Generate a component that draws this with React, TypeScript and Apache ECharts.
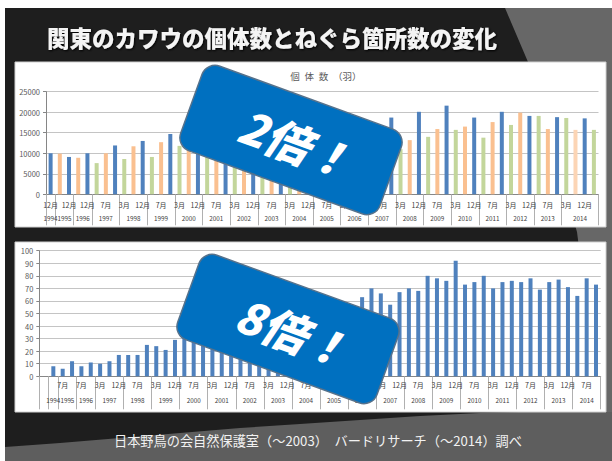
import React, { useEffect, useRef } from "react";
import * as echarts from "echarts";

// ---------- Data ----------
const topMonths = [
  "12月",
  "7月", "12月",
  "7月", "12月",
  "3月", "7月", "12月", // 1997
  "3月", "7月", "12月", // 1998
  "3月", "7月", "12月", // 1999
  "3月", "7月", "12月", // 2000
  "3月", "7月", "12月", // 2001
  "3月", "7月", "12月", // 2002
  "3月", "7月", "12月", // 2003
  "3月", "7月", "12月", // 2004
  "3月", "7月", "12月", // 2005
  "3月", "7月", "12月", // 2006
  "3月", "7月", "12月", // 2007
  "3月", "7月", "12月", // 2008
  "3月", "7月", "12月", // 2009
  "3月", "7月", "12月", // 2010
  "3月", "7月", "12月", // 2011
  "3月", "7月", "12月", // 2012
  "3月", "7月", "12月", // 2013
  "3月", "7月", "12月", "3月", // 2014
];
const topValues = [
  10000, 9900, 9100, 8900, 10000, 7600, 10000, 11900, 8600, 11700,
  13000, 9100, 12700, 14700, 11800, 13500, 15000, 12000, 14200, 15800,
  12800, 14900, 15700, 12900, 15300, 17200, 13600, 15600, 16800, 14300,
  16200, 18100, 13900, 15800, 17300, 14500, 15800, 18700, 11000, 13200,
  20100, 14000, 15900, 21600, 15700, 16500, 18700, 13800, 17600, 20100,
  16900, 19900, 19100, 19100, 15900, 18800, 18600, 15700, 18500, 15700,
];
const topPaleIndex = [57];
const topYearLabels = [
  "1994", "1995", "1996", "1997", "1998", "1999", "2000", "2001", "2002", "2003", "2004",
  "2005", "2006", "2007", "2008", "2009", "2010", "2011", "2012", "2013", "2014",
];
const topYearSizes = [1, 2, 2, 3, 3, 3, 3, 3, 3, 3, 3, 3, 3, 3, 3, 3, 3, 3, 3, 3, 4];

const bottomMonths = [
  "", "12月",
  "7月", "12月",
  "7月", "12月",
  "3月", "7月", "12月", // 1997
  "3月", "7月", "12月", // 1998
  "3月", "7月", "12月", // 1999
  "3月", "7月", "12月", // 2000
  "3月", "7月", "12月", // 2001
  "3月", "7月", "12月", // 2002
  "3月", "7月", "12月", // 2003
  "3月", "7月", "12月", // 2004
  "3月", "7月", "12月", // 2005
  "3月", "7月", "12月", // 2006
  "3月", "7月", "12月", // 2007
  "3月", "7月", "12月", // 2008
  "3月", "7月", "12月", // 2009
  "3月", "7月", "12月", // 2010
  "3月", "7月", "12月", // 2011
  "3月", "7月", "12月", // 2012
  "3月", "7月", "12月", // 2013
  "3月", "7月", "12月", // 2014
];
const bottomValues = [
  null, 8, 6, 12, 8, 11, 10, 12, 17, 17,
  17, 25, 24, 21, 29, 31, 33, 32, 36, 38,
  37, 41, 43, 42, 46, 48, 47, 50, 51, 50,
  53, 54, 50, 52, 63, 70, 66, 57, 67, 70,
  68, 80, 78, 76, 92, 73, 75, 80, 70, 75,
  76, 75, 78, 69, 75, 77, 71, 64, 78, 73,
];
const bottomYearLabels = [
  "", "1994", "1995", "1996", "1997", "1998", "1999", "2000", "2001", "2002", "2003",
  "2004", "2005", "2006", "2007", "2008", "2009", "2010", "2011", "2012", "2013", "2014",
];
const bottomYearSizes = [1, 1, 2, 2, 3, 3, 3, 3, 3, 3, 3, 3, 3, 3, 3, 3, 3, 3, 3, 3, 3, 3];

const topYMax = 25000;
const topYStep = 5000;
const bottomYMax = 100;
const bottomYStep = 10;

const mainTitle = "関東のカワウの個体数とねぐら箇所数の変化";
const topChartTitle = "個\u2002体\u2002数\u2002（羽）";
const footerText = "日本野鳥の会自然保護室（～2003）　バードリサーチ（～2014）調べ";
const topBadge = "2倍！";
const bottomBadge = "8倍！";

// ---------- Styles ----------
const FONT = '"Noto Sans CJK JP", "Noto Sans", sans-serif';
const monthColors: Record<string, string> = {
  "12月": "#4F81BD",
  "3月": "#C3D69B",
  "7月": "#FAC090",
};
const paleColor = "#FCD5B5";
const blue = "#4F81BD";

function yearAxis(labels: string[], sizes: number[]) {
  const total = sizes.reduce((s, v) => s + v, 0);
  const data: string[] = new Array(total * 2 + 1).fill("");
  const bounds = new Set<number>([0]);
  let start = 0;
  labels.forEach((lab, i) => {
    const end = start + sizes[i];
    data[start + end] = lab;
    bounds.add(end * 2);
    start = end;
  });
  return { data, bounds };
}

function badge(cx: number, cy: number, text: string) {
  return {
    type: "group",
    x: cx,
    y: cy,
    rotation: (-20 * Math.PI) / 180,
    z: 100,
    children: [
      {
        type: "rect",
        z: 100,
        shape: { x: -106, y: -45, width: 212, height: 90, r: 14 },
        style: { fill: "#0070C0", stroke: "#56728c", lineWidth: 1.5 },
      },
      {
        type: "text",
        z: 101,
        style: {
          text,
          x: 6,
          y: 0,
          fill: "#ffffff",
          fontSize: 45,
          fontWeight: 900,
          fontStyle: "italic",
          fontFamily: FONT,
          textAlign: "center",
          textVerticalAlign: "middle",
          align: "center",
          verticalAlign: "middle",
        },
      },
    ],
  };
}

export default function App() {
  const ref = useRef<HTMLDivElement>(null);

  useEffect(() => {
    if (!ref.current) return;
    const chart = echarts.init(ref.current, undefined, { renderer: "svg" });
    const topYear = yearAxis(topYearLabels, topYearSizes);
    const botYear = yearAxis(bottomYearLabels, bottomYearSizes);

    const monthLabel = { interval: 1, fontSize: 7, color: "#404040", fontFamily: FONT };
    const yearLabel = { interval: 0, fontSize: 6.3, color: "#404040", fontFamily: FONT };
    const axisLine = { show: true, lineStyle: { color: "#868686", width: 1 } };
    const yLabel = {
      fontSize: 7.5,
      color: "#595959",
      fontFamily: FONT,
      margin: 6,
      formatter: (v: number) => String(v),
    };
    const split = { show: true, lineStyle: { color: "#c4c4c4", width: 1 } };

    const option: any = {
      animation: false,
      backgroundColor: "#ffffff",
      grid: [
        { left: 46, top: 91.7, right: 13.5, bottom: 461 - 194.3 },
        { left: 39.3, top: 250.7, right: 11.3, bottom: 461 - 376.3 },
      ],
      xAxis: [
        {
          gridIndex: 0,
          type: "category",
          position: "bottom",
          data: topMonths,
          axisLine,
          axisTick: { show: false },
          axisLabel: { ...monthLabel, margin: 7 },
        },
        {
          gridIndex: 0,
          type: "category",
          position: "bottom",
          boundaryGap: false,
          data: topYear.data,
          axisLine: { show: false },
          axisTick: {
            show: true,
            interval: (i: number) => topYear.bounds.has(i),
            length: 31,
            lineStyle: { color: "#b0b0b0" },
          },
          axisLabel: { ...yearLabel, margin: 21 },
        },
        {
          gridIndex: 1,
          type: "category",
          position: "bottom",
          data: bottomMonths,
          axisLine,
          axisTick: { show: false },
          axisLabel: { ...monthLabel, margin: 5 },
        },
        {
          gridIndex: 1,
          type: "category",
          position: "bottom",
          boundaryGap: false,
          data: botYear.data,
          axisLine: { show: false },
          axisTick: {
            show: true,
            interval: (i: number) => botYear.bounds.has(i),
            length: 33,
            lineStyle: { color: "#b0b0b0" },
          },
          axisLabel: { ...yearLabel, margin: 21 },
        },
      ],
      yAxis: [
        {
          gridIndex: 0,
          type: "value",
          min: 0,
          max: topYMax,
          interval: topYStep,
          axisLine,
          axisTick: { show: true, length: 3, lineStyle: { color: "#868686" } },
          axisLabel: yLabel,
          splitLine: split,
        },
        {
          gridIndex: 1,
          type: "value",
          min: 0,
          max: bottomYMax,
          interval: bottomYStep,
          axisLine,
          axisTick: { show: true, length: 3, lineStyle: { color: "#868686" } },
          axisLabel: yLabel,
          splitLine: split,
        },
      ],
      series: [
        {
          type: "bar",
          xAxisIndex: 0,
          yAxisIndex: 0,
          barWidth: 4,
          data: topValues.map((v, i) => ({
            value: v,
            itemStyle: {
              color: topPaleIndex.includes(i) ? paleColor : monthColors[topMonths[i]],
            },
          })),
        },
        {
          type: "bar",
          xAxisIndex: 2,
          yAxisIndex: 1,
          barWidth: 4,
          itemStyle: { color: blue },
          data: bottomValues,
        },
      ],
      graphic: [
        { type: "rect", z: -20, shape: { x: 5, y: 8, width: 607, height: 453 }, style: { fill: "#1e1e1e" } },
        {
          type: "polygon",
          z: -19,
          shape: { points: [[505, 8], [612, 8], [612, 412], [600, 412], [577, 232], [528, 62]] },
          style: { fill: "#676767" },
        },
        {
          type: "polygon",
          z: -19,
          shape: {
            points: [
              [5, 447], [60, 443], [120, 438], [180, 433], [240, 428], [300, 424], [360, 420],
              [420, 416], [480, 413], [520, 412], [612, 412], [612, 461], [5, 461],
            ],
          },
          style: { fill: "#5e5e5e" },
        },
        {
          type: "rect",
          z: -15,
          shape: { x: 15, y: 62, width: 591, height: 165 },
          style: { fill: "#ffffff", stroke: "#d0d0d0", lineWidth: 1 },
        },
        {
          type: "rect",
          z: -15,
          shape: { x: 15, y: 242, width: 591, height: 170 },
          style: { fill: "#ffffff", stroke: "#d0d0d0", lineWidth: 1 },
        },
        {
          type: "text",
          z: 10,
          style: {
            text: mainTitle,
            x: 272,
            y: 37,
            fill: "#f4f4f4",
            fontSize: 22.5,
            fontWeight: 900,
            fontFamily: FONT,
            textAlign: "center",
            textVerticalAlign: "middle",
            align: "center",
            verticalAlign: "middle",
            textShadowColor: "#000000",
            textShadowBlur: 2,
            textShadowOffsetX: 1,
            textShadowOffsetY: 1,
          },
        },
        {
          type: "text",
          z: 10,
          style: {
            text: topChartTitle,
            x: 326,
            y: 76,
            fill: "#595959",
            fontSize: 9.5,
            fontFamily: FONT,
            textAlign: "center",
            textVerticalAlign: "middle",
            align: "center",
            verticalAlign: "middle",
          },
        },
        {
          type: "text",
          z: 10,
          style: {
            text: footerText,
            x: 318,
            y: 440,
            fill: "#f2f2f2",
            fontSize: 13.2,
            fontFamily: FONT,
            textAlign: "center",
            textVerticalAlign: "middle",
            align: "center",
            verticalAlign: "middle",
          },
        },
        badge(291, 140, topBadge),
        badge(288, 329, bottomBadge),
      ],
    };
    chart.setOption(option);
    return () => chart.dispose();
  }, []);

  return (
    <div
      ref={ref}
      style={{ position: "absolute", left: 0, top: 0, width: 612, height: 461 }}
    />
  );
}
